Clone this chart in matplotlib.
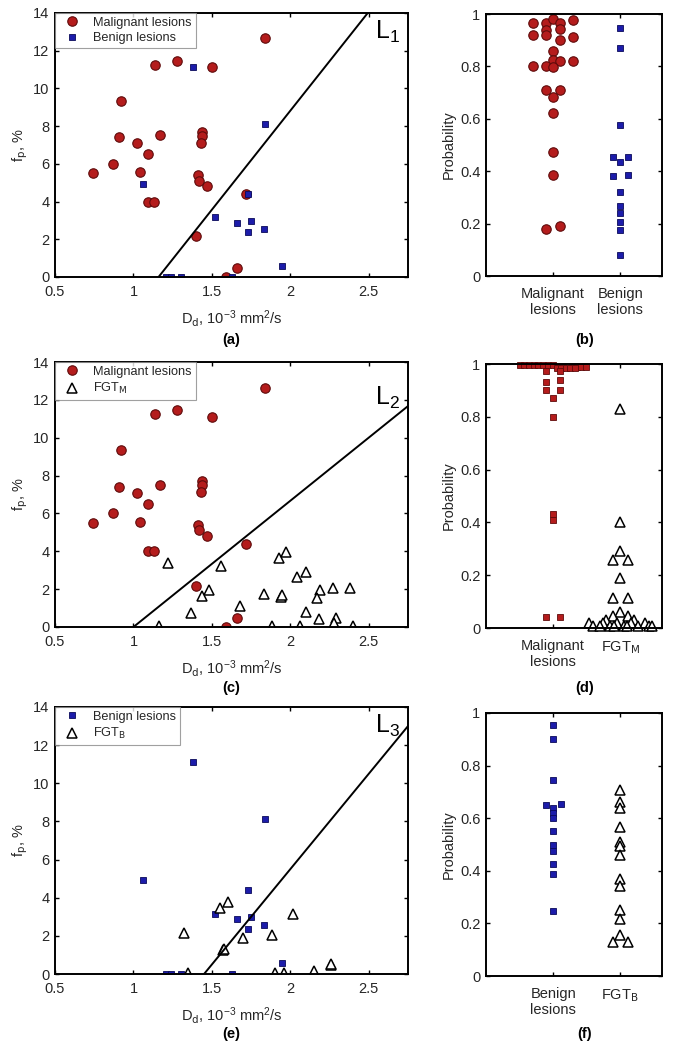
import matplotlib
matplotlib.use("Agg")
import matplotlib.pyplot as plt
import numpy as np

plt.rcParams['font.family'] = ['Liberation Sans', 'DejaVu Sans']
plt.rcParams['mathtext.default'] = 'regular'

# ---- scatter data (D_d in 1e-3 mm^2/s, f_p in %) ----
mal_d = [1.84, 1.14, 1.28, 1.50, 0.92, 0.91, 1.02, 1.17, 1.44, 1.44, 1.43, 1.09,
         0.87, 0.74, 1.04, 1.41, 1.42, 1.47, 1.09, 1.13, 1.72, 1.40, 1.66, 1.59]
mal_f = [12.65, 11.23, 11.45, 11.11, 9.33, 7.41, 7.09, 7.51, 7.71, 7.48, 7.13, 6.51,
         6.00, 5.50, 5.57, 5.41, 5.10, 4.80, 3.99, 3.99, 4.39, 2.15, 0.46, 0.0]

ben_d = [1.38, 1.06, 1.84, 1.52, 1.66, 1.75, 1.73, 1.83, 1.95, 1.21, 1.24, 1.30, 1.63, 1.73]
ben_f = [11.13, 4.92, 8.11, 3.17, 2.89, 2.98, 2.36, 2.57, 0.56, 0.0, 0.0, 0.0, 0.0, 4.41]

fgtm_d = [1.22, 1.56, 1.93, 1.97, 2.04, 2.10, 1.48, 1.44, 1.83, 1.94, 1.95, 2.19,
          2.27, 2.38, 2.17, 1.68, 1.37, 2.10, 2.18, 2.29, 2.28, 1.16, 1.88, 2.06, 2.40]
fgtm_f = [3.40, 3.22, 3.63, 3.94, 2.62, 2.92, 1.95, 1.64, 1.73, 1.60, 1.69, 1.95,
          2.08, 2.04, 1.55, 1.13, 0.76, 0.81, 0.40, 0.46, 0.23, 0.05, 0.05, 0.05, 0.05]

fgtb_d = [1.60, 1.55, 2.02, 1.32, 1.70, 1.88, 1.57, 1.58, 1.35, 1.90, 1.96, 2.15, 2.26, 2.26]
fgtb_f = [3.77, 3.44, 3.14, 2.13, 1.87, 2.04, 1.26, 1.30, 0.03, 0.03, 0.03, 0.15, 0.47, 0.52]

# separating lines: f = slope * (D - D0)
lines = {'L$_1$': (1.16, 10.5), 'L$_2$': (1.0, 6.67), 'L$_3$': (1.45, 10.0)}

# ---- probability data (value, horizontal offset within the category) ----
prob_b_mal = [0.965, 0.965, 0.981, 0.965, 0.978, 0.94, 0.943, 0.92, 0.92, 0.914, 0.90,
              0.857, 0.825, 0.80, 0.80, 0.82, 0.82, 0.797, 0.709, 0.709, 0.684, 0.623,
              0.475, 0.386, 0.18, 0.19]
off_b_mal = [-0.3, -0.11, 0.0, 0.1, 0.3, -0.11, 0.1, -0.3, -0.11, 0.3, 0.1,
             0.0, 0.0, -0.11, -0.3, 0.1, 0.3, 0.0, -0.11, 0.1, 0.0, 0.0,
             0.0, 0.0, -0.11, 0.1]
prob_b_ben = [0.947, 0.870, 0.578, 0.456, 0.456, 0.434, 0.380, 0.384, 0.322, 0.266,
              0.241, 0.205, 0.177, 0.080]
off_b_ben = [0, 0, 0, -0.11, 0.11, 0, -0.11, 0.11, 0, 0, 0, 0, 0, 0]

prob_d_mal = [0.998] * 8 + [0.99] * 6 + [0.985] * 5 + [0.975, 0.975, 0.94, 0.93, 0.90, 0.90,
                                                        0.87, 0.80, 0.43, 0.41, 0.04, 0.04]
off_d_mal = [-0.5, -0.43, -0.36, -0.29, -0.22, -0.15, -0.08, 0.0,
             0.07, 0.14, 0.28, 0.35, 0.42, 0.49,
             0.05, 0.12, 0.19, 0.25, 0.32,
             -0.11, 0.1, 0.1, -0.11, -0.11, 0.1, 0.0, 0.0, 0.0, 0.0, -0.11, 0.1]
prob_d_fgt = [0.83, 0.40, 0.29, 0.256, 0.256, 0.19, 0.114, 0.114, 0.06, 0.045, 0.045,
              0.03, 0.03] + [0.02] * 5 + [0.008] * 9
off_d_fgt = [0, 0, 0, -0.11, 0.11, 0, -0.11, 0.11, 0, -0.11, 0.11, -0.21, 0.21,
             -0.47, -0.26, -0.05, 0.16, 0.37,
             -0.4, -0.31, -0.16, -0.1, 0.05, 0.1, 0.26, 0.42, 0.47]

prob_f_ben = [0.956, 0.90, 0.747, 0.65, 0.654, 0.64, 0.62, 0.60, 0.55, 0.50, 0.475,
              0.427, 0.389, 0.247]
off_f_ben = [0, 0, 0, -0.11, 0.11, 0, 0, 0, 0, 0, 0, 0, 0, 0]
prob_f_fgt = [0.709, 0.66, 0.64, 0.567, 0.51, 0.494, 0.46, 0.367, 0.344, 0.25, 0.215,
              0.154, 0.129, 0.129]
off_f_fgt = [0] * 12 + [-0.11, 0.11]

RED, RED_E = '#b41c1c', '#5e0b0b'
BLUE, BLUE_E = '#1c1caa', '#0a0a5a'
TXT = '#262626'

W, H = 699, 1050
fig = plt.figure(figsize=(W / 100, H / 100), dpi=100)


def ax_px(left, top, right, bottom):
    return fig.add_axes([left / W, 1 - bottom / H, (right - left) / W, (bottom - top) / H])


def style(ax, xpad=6):
    ax.tick_params(direction='in', top=True, right=True, length=3, width=1,
                   labelsize=10.5, colors='black', labelcolor=TXT, pad=4)
    ax.tick_params(axis='x', pad=xpad)
    for s in ax.spines.values():
        s.set_linewidth(1.4)


def mal_kw():
    return dict(marker='o', ls='none', ms=6.8, mfc=RED, mec=RED_E, mew=0.8)


def ben_kw():
    return dict(marker='s', ls='none', ms=4.8, mfc=BLUE, mec=BLUE_E, mew=0.6)


def tri_kw():
    return dict(marker='^', ls='none', ms=6.5, mfc='white', mec='black', mew=1.1)


def scatter_panel(box, sets, line_key):
    ax = ax_px(*box)
    for d, f, kw, lab in sets:
        ax.plot(d, f, label=lab, **kw)
    d0, k = lines[line_key]
    xs = np.array([d0, 2.75])
    ys = k * (xs - d0)
    ax.plot(xs, ys, color='black', lw=1.4)
    ax.text(2.62, 13.0 if line_key != 'L$_2$' else 12.1, line_key, fontsize=18,
            ha='center', va='center', color='black')
    ax.set_xlim(0.5, 2.75)
    ax.set_ylim(0, 14)
    ax.set_xticks([0.5, 1, 1.5, 2, 2.5])
    ax.set_xticklabels(['0.5', '1', '1.5', '2', '2.5'])
    ax.set_yticks(range(0, 15, 2))
    ax.set_xlabel(r'D$_\mathrm{d}$, 10$^{-3}$ mm$^2$/s', fontsize=10.5, color=TXT, labelpad=6)
    ax.set_ylabel(r'f$_\mathrm{p}$, %', fontsize=10.5, color=TXT, labelpad=2)
    style(ax)
    leg = ax.legend(loc='upper left', fontsize=9.2, frameon=True, fancybox=False,
                    borderaxespad=0, handletextpad=0.7, borderpad=0.3,
                    labelspacing=0.25, handlelength=2.0, numpoints=1)
    leg.get_frame().set_edgecolor('#888888')
    leg.get_frame().set_linewidth(0.8)
    for t in leg.get_texts():
        t.set_color(TXT)
    return ax


def prob_panel(box, sets, labels):
    ax = ax_px(*box)
    for i, (p, off, kw) in enumerate(sets):
        ax.plot(np.array(off) + i + 1, p, clip_on=False, **kw)
    ax.set_xlim(0, 2.62)
    ax.set_ylim(0, 1)
    ax.set_xticks([1, 2])
    ax.set_xticklabels(labels)
    ax.set_yticks([0, 0.2, 0.4, 0.6, 0.8, 1])
    ax.set_yticklabels(['0', '0.2', '0.4', '0.6', '0.8', '1'])
    ax.set_ylabel('Probability', fontsize=10.5, color=TXT, labelpad=3)
    style(ax, xpad=8)
    return ax


scatter_panel((55, 13, 408, 277),
              [(mal_d, mal_f, mal_kw(), 'Malignant lesions'),
               (ben_d, ben_f, ben_kw(), 'Benign lesions')], 'L$_1$')
scatter_panel((55, 362, 408, 627),
              [(mal_d, mal_f, mal_kw(), 'Malignant lesions'),
               (fgtm_d, fgtm_f, tri_kw(), r'FGT$_\mathrm{M}$')], 'L$_2$')
scatter_panel((55, 707, 408, 974),
              [(ben_d, ben_f, ben_kw(), 'Benign lesions'),
               (fgtb_d, fgtb_f, tri_kw(), r'FGT$_\mathrm{B}$')], 'L$_3$')

prob_panel((486, 14, 662, 276),
           [(prob_b_mal, off_b_mal, mal_kw()), (prob_b_ben, off_b_ben, ben_kw())],
           ['Malignant\nlesions', 'Benign\nlesions'])
sq_red = dict(marker='s', ls='none', ms=4.8, mfc=RED, mec=RED_E, mew=0.6)
prob_panel((486, 364, 662, 628),
           [(prob_d_mal, off_d_mal, sq_red), (prob_d_fgt, off_d_fgt, tri_kw())],
           ['Malignant\nlesions', r'FGT$_\mathrm{M}$'])
prob_panel((486, 713, 662, 976),
           [(prob_f_ben, off_f_ben, ben_kw()), (prob_f_fgt, off_f_fgt, tri_kw())],
           ['Benign\nlesions', r'FGT$_\mathrm{B}$'])

for lab, x, y in [('(a)', 231, 340), ('(b)', 585, 340), ('(c)', 231, 688),
                  ('(d)', 585, 688), ('(e)', 231, 1034), ('(f)', 585, 1034)]:
    fig.text(x / W, 1 - y / H, lab, ha='center', va='center', fontsize=10.5,
             fontweight='bold', color='black')

fig.savefig('out.png', dpi=100)
